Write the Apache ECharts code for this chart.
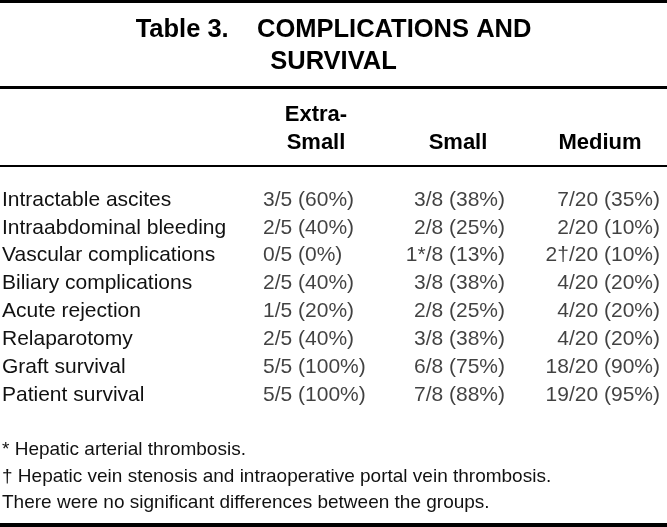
<!DOCTYPE html>
<html>
<head>
<meta charset="utf-8">
<script src="https://cdn.jsdelivr.net/npm/echarts@6/dist/echarts.min.js"></script>
<style>html,body{margin:0;padding:0;background:#fff}#c{width:667px;height:527px}</style>
</head>
<body>
<div id="c"></div>
<script>
// ---- table content ----
var titleText = 'Table 3.    COMPLICATIONS AND\nSURVIVAL';
var groups = ['Extra-\nSmall', 'Small', 'Medium'];
var rows = [
  'Intractable ascites',
  'Intraabdominal bleeding',
  'Vascular complications',
  'Biliary complications',
  'Acute rejection',
  'Relaparotomy',
  'Graft survival',
  'Patient survival'
];
var extraSmall = ['3/5 (60%)', '2/5 (40%)', '0/5 (0%)', '2/5 (40%)', '1/5 (20%)', '2/5 (40%)', '5/5 (100%)', '5/5 (100%)'];
var small = ['3/8 (38%)', '2/8 (25%)', '1*/8 (13%)', '3/8 (38%)', '2/8 (25%)', '3/8 (38%)', '6/8 (75%)', '7/8 (88%)'];
var medium = ['7/20 (35%)', '2/20 (10%)', '2\u2020/20 (10%)', '4/20 (20%)', '4/20 (20%)', '4/20 (20%)', '18/20 (90%)', '19/20 (95%)'];
var footnotes = [
  '* Hepatic arterial thrombosis.',
  '\u2020 Hepatic vein stenosis and intraoperative portal vein thrombosis.',
  'There were no significant differences between the groups.'
];

var FONT = '"Liberation Sans", Arial, Helvetica, sans-serif';
var chart = echarts.init(document.getElementById('c'), null, {renderer: 'canvas'});

function colSeries(groupIdx, values, align, dx) {
  return {
    type: 'scatter',
    symbolSize: 1,
    itemStyle: {color: 'rgba(0,0,0,0)'},
    silent: true,
    data: rows.map(function (r, i) { return [groups[groupIdx], r, values[i]]; }),
    label: {
      show: true,
      position: 'inside',
      align: align,
      verticalAlign: 'middle',
      offset: [dx, 0],
      fontSize: 21,
      color: '#111',
      fontFamily: FONT,
      formatter: function (p) { return p.value[2]; }
    }
  };
}

var option = {
  animation: false,
  backgroundColor: '#fff',
  textStyle: {fontFamily: FONT},
  title: [
    {
      text: titleText,
      left: 'center',
      top: 14,
      padding: 0,
      textStyle: {fontSize: 25.5, fontWeight: 'bold', lineHeight: 32, color: '#000', fontFamily: FONT}
    },
    {
      text: footnotes.join('\n'),
      left: 2,
      top: 437,
      padding: 0,
      textStyle: {fontSize: 19, fontWeight: 'normal', lineHeight: 26.5, color: '#111', fontFamily: FONT}
    }
  ],
  graphic: [
    {type: 'rect', shape: {x: 0, y: 0, width: 667, height: 3}, style: {fill: '#000'}},
    {type: 'rect', shape: {x: 0, y: 86, width: 667, height: 3}, style: {fill: '#000'}},
    {type: 'rect', shape: {x: 0, y: 165, width: 667, height: 2}, style: {fill: '#000'}},
    {type: 'rect', shape: {x: 0, y: 523, width: 667, height: 4}, style: {fill: '#000'}}
  ],
  grid: {left: 245, width: 426, top: 186, height: 223, outerBoundsMode: 'none', containLabel: false},
  xAxis: {
    type: 'category',
    position: 'top',
    data: groups,
    axisLine: {show: false},
    axisTick: {show: false},
    splitLine: {show: false},
    axisLabel: {
      interval: 0,
      margin: 29,
      fontSize: 22,
      fontWeight: 'bold',
      lineHeight: 28,
      color: '#000',
      fontFamily: FONT
    }
  },
  yAxis: {
    type: 'category',
    inverse: true,
    data: rows,
    axisLine: {show: false},
    axisTick: {show: false},
    splitLine: {show: false},
    axisLabel: {
      interval: 0,
      align: 'left',
      margin: 243,
      fontSize: 21,
      color: '#111',
      fontFamily: FONT
    }
  },
  series: [
    colSeries(0, extraSmall, 'left', -53),
    colSeries(1, small, 'right', 47),
    colSeries(2, medium, 'right', 60)
  ]
};
chart.setOption(option);
</script>
</body>
</html>
